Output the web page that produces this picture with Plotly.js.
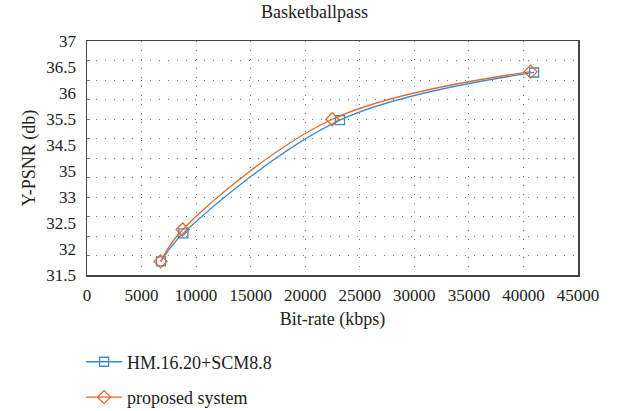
<!DOCTYPE html>
<html>
<head>
<meta charset="utf-8">
<script src="https://cdn.plot.ly/plotly-3.0.1.min.js"></script>
<style>html,body{margin:0;padding:0;background:#fff;}#chart{width:629px;height:411px;}</style>
</head>
<body>
<div id="chart"></div>
<script>
// Data (y in the drawn axis units, 31.5 at bottom, 37 at top)
var hmBitrate = [6780, 8830, 23190, 40970];
var hmPsnr = [31.82, 32.48, 35.14, 36.26];
var propBitrate = [6750, 8770, 22480, 40660];
var propPsnr = [31.82, 32.57, 35.16, 36.28];
var yTickText = ["37", "36.5", "36", "35.5", "34.5", "35", "33", "32.5", "32", "31.5"];
var seriesNames = ["HM.16.20+SCM8.8", "proposed system"];

var yMin = 31.5, yMax = 37;
var yTickVals = yTickText.map(function (t, i) { return yMax - i * (yMax - yMin) / (yTickText.length - 1); });
var yGridVals = [];
for (var k = 1; k < 12; k++) yGridVals.push(yMin + k * (yMax - yMin) / 12);

var font = "'Liberation Serif', 'Times New Roman', serif";
var traces = [
  {x: hmBitrate, y: hmPsnr, name: seriesNames[0], legendgroup: "a", type: "scatter", mode: "lines+markers",
   line: {color: "#3a8ad4", width: 1.3, shape: "spline"},
   marker: {symbol: "square-open", size: 9, color: "#3a8ad4", line: {width: 1.3}}},
  {x: propBitrate, y: propPsnr, name: seriesNames[1], legendgroup: "b", type: "scatter", mode: "lines+markers",
   line: {color: "#e0682a", width: 1.3, shape: "spline"},
   marker: {symbol: "diamond-open", size: 10, color: "#e0682a", line: {width: 1.3}}}
];
var layout = {
  width: 629, height: 411,
  margin: {l: 87, r: 51, t: 41, b: 136, autoexpand: false},
  paper_bgcolor: "#fff", plot_bgcolor: "#fff",
  font: {family: font, size: 17, color: "#222"},
  title: {text: "Basketballpass", font: {family: font, size: 18, color: "#222"}, x: 0.5, xanchor: "center", y: 0.972, yanchor: "middle"},
  showlegend: true,
  legend: {x: -0.012, xanchor: "left", y: -0.293, yanchor: "top",
           traceorder: "grouped", tracegroupgap: 9, itemwidth: 36,
           font: {family: font, size: 18, color: "#222"}, bgcolor: "rgba(0,0,0,0)"},
  xaxis: {
    range: [0, 45000], dtick: 5000, tick0: 0, tickformat: "d",
    showline: true, mirror: true, linecolor: "#444", linewidth: 1.5,
    showgrid: true, gridcolor: "#777", griddash: "1px,8px", gridwidth: 1,
    zeroline: false, ticks: "", ticklabelstandoff: 4,
    tickfont: {family: font, size: 17},
    title: {text: "Bit-rate (kbps)", font: {family: font, size: 18}, standoff: 8}
  },
  yaxis: {
    range: [yMin, yMax], tickmode: "array", tickvals: yTickVals, ticktext: yTickText,
    showline: true, mirror: true, linecolor: "#444", linewidth: 1.5,
    showgrid: false, zeroline: false, ticks: "", ticklabelstandoff: 6,
    tickfont: {family: font, size: 17},
    minor: {tickvals: yGridVals, showgrid: true, gridcolor: "#777", griddash: "1px,8px", gridwidth: 1, ticks: "inside", ticklen: 3, tickcolor: "#777"},
    title: {text: "Y-PSNR (db)", font: {family: font, size: 18}, standoff: 6}
  }
};
Plotly.newPlot("chart", traces, layout, {displayModeBar: false, staticPlot: true});
</script>
</body>
</html>
